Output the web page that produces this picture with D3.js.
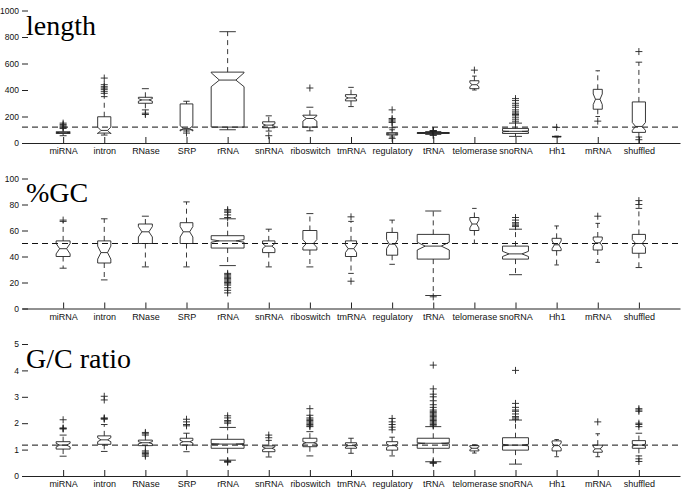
<!DOCTYPE html>
<html><head><meta charset="utf-8">
<script src="https://cdn.jsdelivr.net/npm/d3@7"></script>
<style>
html,body{margin:0;padding:0;background:#fff;}
svg{display:block;}
</style></head>
<body>
<svg id="chart" width="685" height="492"></svg>
<script>
// ---------- DATA ----------
const categories = ["miRNA","intron","RNase","SRP","rRNA","snRNA","riboswitch","tmRNA","regulatory","tRNA","telomerase","snoRNA","Hh1","mRNA","shuffled"];
// relative box widths (variable-width boxplot), in category units
const boxWidths = [0.34,0.32,0.34,0.31,0.80,0.30,0.34,0.27,0.27,0.78,0.22,0.63,0.22,0.22,0.32];

// stats per category: [lowWhisker, q1, median, q3, highWhisker, notchLow, notchHigh]
const lengthStats = [
  [55,72,78,85,110,76,80],
  [60,75,95,198,350,70,120],
  [250,300,325,345,410,315,335],
  [90,100,110,295,315,90,130],
  [100,120,475,535,840,425,530],
  [90,115,135,160,205,125,145],
  [92,120,185,210,270,165,205],
  [275,318,340,365,420,330,350],
  [45,60,68,78,100,65,71],
  [65,72,76,79,86,75.5,76.5],
  [400,410,440,470,505,425,455],
  [50,72,88,110,150,85,91],
  [45,47,48,50,52,46,50],
  [200,255,330,405,545,290,370],
  [45,80,125,310,610,95,155]
];
const lengthOutliers = [
  [115,122,130,140,150],
  [375,390,405,415,425,440,490],
  [215,225],
  [75],
  [],
  [55],
  [415],
  [],
  [35,115,155,165,175,185,250],
  [58,60,88,90,92,94],
  [550],
  [160,175,190,205,215,225,235,250,270,285,300,320,335],
  [118],
  [165],
  [25,690]
];
const lengthRef = 120;
const lengthTicks = [0,200,400,600,800,1000];

const gcStats = [
  [31,40,46,52,67,42,50],
  [22,35,43,52,69,38,48],
  [32,50,59,65,71,55,63],
  [32,50,59,66,82,55,63],
  [33,46.5,52,56,69,51,53],
  [32,43,48,52,61,46,50],
  [32,45,50,60,73,47,53],
  [27,40,46,52,67,43,49],
  [34,41,49.5,58.5,68,46,53],
  [10,38,48,57,75,45,51],
  [50,60,65,70,77,62,68],
  [26,38,42,48,61,40,44],
  [33.5,44.5,49,54,63.5,46,52],
  [35.5,45,50.5,55,65.5,48,53],
  [31.5,42.5,50,57,77,47,53]
];
const gcOutliers = [
  [68],
  [],
  [],
  [],
  [12,14,16,18,19,20,21,22,23,24,25,26,27,70,72,74,75,76],
  [],
  [],
  [21,70.5],
  [],
  [9],
  [],
  [63,64,65,66,68,70],
  [],
  [71],
  [80,83]
];
const gcRef = 50;
const gcTicks = [0,20,40,60,80,100];

const ratioStats = [
  [0.75,1.02,1.17,1.30,1.55,1.10,1.24],
  [0.93,1.20,1.37,1.52,1.95,1.30,1.45],
  [0.95,1.15,1.26,1.36,1.55,1.22,1.30],
  [0.92,1.17,1.30,1.43,1.62,1.25,1.35],
  [0.60,1.05,1.21,1.39,1.84,1.19,1.23],
  [0.72,0.92,1.05,1.14,1.35,1.00,1.10],
  [0.76,1.11,1.26,1.43,1.68,1.22,1.30],
  [0.86,1.05,1.15,1.26,1.43,1.10,1.20],
  [0.76,0.98,1.15,1.30,1.47,1.08,1.22],
  [0.54,1.05,1.24,1.43,1.87,1.22,1.26],
  [0.87,0.95,1.05,1.15,1.18,1.00,1.10],
  [0.45,0.98,1.17,1.45,2.12,1.14,1.20],
  [0.73,0.95,1.15,1.33,1.38,1.05,1.25],
  [0.73,0.90,1.03,1.17,1.60,0.96,1.10],
  [0.76,1.05,1.17,1.34,1.62,1.13,1.21]
];
const ratioOutliers = [
  [1.78,1.80,1.82,2.13],
  [2.15,2.18,2.20,2.88,3.02],
  [0.75,0.80,0.85,0.90,1.60,1.65],
  [1.90,1.95,2.05,2.15],
  [0.52,0.55,0.57,2.00,2.05,2.10,2.20,2.28],
  [1.45,1.55],
  [1.87,1.90,1.95,2.00,2.05,2.10,2.15,2.20,2.30,2.55],
  [],
  [1.75,1.85,1.95,2.05,2.18],
  [0.48,0.50,0.52,1.90,1.95,2.00,2.05,2.10,2.15,2.20,2.25,2.30,2.35,2.40,2.45,2.50,2.60,2.70,2.85,3.00,3.10,3.30,4.20],
  [],
  [2.15,2.20,2.25,2.35,2.45,2.50,2.60,2.75,4.00],
  [],
  [2.05],
  [0.55,0.65,1.87,1.95,2.00,2.45,2.50,2.55]
];
const ratioRef = 1.17;
const ratioTicks = [0,1,2,3,4,5];

const titles = ["length","%GC","G/C ratio"];

// ---------- DRAW ----------
const svg = d3.select("#chart");
const x = d3.scaleLinear().domain([0,16]).range([22,680]);

const panels = [
  {title:titles[0], stats:lengthStats, out:lengthOutliers, ref:lengthRef, ticks:lengthTicks, domain:[0,1000], range:[143,10.5], titleY:35},
  {title:titles[1], stats:gcStats, out:gcOutliers, ref:gcRef, ticks:gcTicks, domain:[0,100], range:[308.5,178.5], titleY:202},
  {title:titles[2], stats:ratioStats, out:ratioOutliers, ref:ratioRef, ticks:ratioTicks, domain:[0,5], range:[476,344], titleY:368}
];

const ink = "#222";
const sans = "Liberation Sans, Arial, Helvetica, sans-serif";
const serif = "Liberation Serif, Times New Roman, DejaVu Serif, serif";

panels.forEach(p => {
  const y = d3.scaleLinear().domain(p.domain).range(p.range);
  const g = svg.append("g");

  // y axis (ticks only, inward)
  const ya = g.append("g").attr("transform","translate(22,0)")
    .call(d3.axisLeft(y).tickValues(p.ticks).tickSizeInner(-6).tickSizeOuter(0).tickPadding(3).tickFormat(d3.format("d")));
  ya.select(".domain").remove();
  ya.selectAll("line").attr("stroke",ink);
  ya.selectAll("text").style("font-family",sans).style("font-size","8.5px").attr("fill","#111");

  // x axis
  const xa = g.append("g").attr("transform",`translate(0,${p.range[0]})`)
    .call(d3.axisBottom(x).tickValues(d3.range(1,16)).tickFormat(i => categories[i-1]).tickSizeInner(-6).tickSizeOuter(0).tickPadding(5));
  xa.select(".domain").attr("stroke",ink);
  xa.selectAll("line").attr("stroke",ink);
  xa.selectAll("text").style("font-family",sans).style("font-size","9px").attr("fill","#111");

  // reference dashed line
  g.append("line").attr("x1",22).attr("x2",680).attr("y1",y(p.ref)).attr("y2",y(p.ref))
    .attr("stroke","#111").attr("stroke-width",1).attr("stroke-dasharray","6,4");

  // boxes
  p.stats.forEach((s,i) => {
    const [lo,q1,med,q3,hi,nlo,nhi] = s;
    const cx = x(i+1);
    const w = x(boxWidths[i]) - x(0);
    const xl = cx - w/2, xr = cx + w/2, nl = cx - w/4, nr = cx + w/4;
    const bg = g.append("g");
    // whiskers
    bg.append("line").attr("x1",cx).attr("x2",cx).attr("y1",y(q3)).attr("y2",y(hi))
      .attr("stroke",ink).attr("stroke-width",0.9).attr("stroke-dasharray","5,4");
    bg.append("line").attr("x1",cx).attr("x2",cx).attr("y1",y(q1)).attr("y2",y(lo))
      .attr("stroke",ink).attr("stroke-width",0.9).attr("stroke-dasharray","5,4");
    // caps
    [lo,hi].forEach(v => {
      bg.append("line").attr("x1",cx-w/4).attr("x2",cx+w/4).attr("y1",y(v)).attr("y2",y(v))
        .attr("stroke",ink).attr("stroke-width",0.9);
    });
    // notched box
    const path = d3.path();
    path.moveTo(xl,y(q1));
    path.lineTo(xl,y(nlo));
    path.lineTo(nl,y(med));
    path.lineTo(xl,y(nhi));
    path.lineTo(xl,y(q3));
    path.lineTo(xr,y(q3));
    path.lineTo(xr,y(nhi));
    path.lineTo(nr,y(med));
    path.lineTo(xr,y(nlo));
    path.lineTo(xr,y(q1));
    path.closePath();
    bg.append("path").attr("d",path.toString()).attr("fill","none").attr("stroke",ink).attr("stroke-width",0.9);
    // median
    bg.append("line").attr("x1",nl).attr("x2",nr).attr("y1",y(med)).attr("y2",y(med))
      .attr("stroke",ink).attr("stroke-width",0.9);
    // outliers
    p.out[i].forEach(v => {
      const yy = y(v);
      bg.append("path").attr("d",`M${cx-3.5},${yy}H${cx+3.5}M${cx},${yy-3.5}V${yy+3.5}`)
        .attr("stroke",ink).attr("stroke-width",0.9).attr("fill","none");
    });
  });

  // title
  g.append("text").attr("x",26).attr("y",p.titleY).text(p.title)
    .style("font-family",serif).style("font-size","28px").attr("fill","#000");
});
</script>
</body></html>
